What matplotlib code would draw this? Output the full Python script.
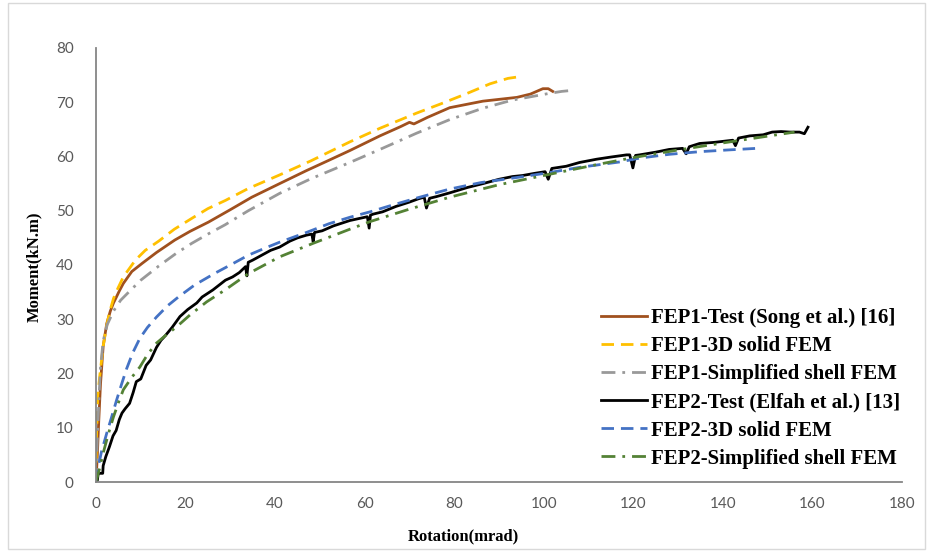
import matplotlib
matplotlib.use("Agg")
import matplotlib.pyplot as plt
from matplotlib.patches import Rectangle

# ---------------- data ----------------
fep1_test = [(0, 0), (0.3, 5), (0.6, 11), (1.0, 18), (1.6, 25), (2.4, 29.2), (3.2, 31.5),
             (3.9, 33.0), (4.5, 34.0), (5.2, 35.2), (6.1, 36.6), (8.0, 38.8), (10.3, 40.3),
             (13.5, 42.3), (17.6, 44.6), (21, 46.2), (25.1, 47.9), (30, 50.2), (34.8, 52.5),
             (41, 55.0), (47, 57.4), (52, 59.3), (56.7, 61.1), (63.4, 63.8), (68, 65.5),
             (70, 66.3), (71, 66.0), (74, 67.2), (79, 69.0), (86.4, 70.2), (94, 70.9),
             (97, 71.5), (99.8, 72.5), (101, 72.5), (102, 72.0)]
fep1_solid = [(0, 0), (0.1, 8), (0.4, 16), (0.9, 20), (1.6, 25), (2.3, 28.5), (3.1, 31.5),
              (3.9, 33.8), (4.6, 35.2), (6.1, 37.8), (8.8, 40.9), (11, 42.7), (14, 44.4),
              (17.5, 46.6), (21.4, 48.6), (25, 50.4), (28.9, 51.9), (34, 54.1), (41, 56.6),
              (48, 59.2), (56.7, 62.7), (63.4, 65.2), (71.6, 68.0), (77, 69.7), (82.8, 71.6),
              (88, 73.4), (92, 74.4), (95.3, 74.8)]
fep1_shell = [(0, 0), (0.3, 8), (0.7, 16), (1.0, 21), (1.6, 26), (2.5, 29), (3.9, 31.5),
              (5.5, 33.5), (7.3, 35.0), (10, 37.2), (14, 39.8), (18, 42.2), (21.4, 44.0),
              (25, 45.7), (28.8, 47.4), (34, 50.0), (41, 53.2), (48, 55.9), (56.7, 58.9),
              (63.4, 61.3), (71.6, 64.3), (79, 66.8), (86.4, 68.9), (93, 70.4), (101, 71.6),
              (104, 72.0), (106.5, 72.2)]
fep2_test = [(0, 0), (0.3, 0.3), (0.5, 1.6), (1.5, 1.6), (1.6, 3.0), (2.2, 4.7), (3.0, 6.5),
             (3.8, 8.5), (4.5, 9.5), (5.2, 11.5), (5.8, 12.7), (6.5, 13.5), (7.5, 14.5),
             (8.3, 16.5), (9.0, 18.5), (10.0, 19.0), (11.2, 21.5), (12.2, 22.5), (13.5, 24.8),
             (14.5, 26.1), (15.5, 27.0), (17.0, 28.5), (18.75, 30.5), (20.5, 31.8), (22.5, 33.0),
             (23.7, 34.1), (26.1, 35.4), (28.9, 37.2), (30.5, 37.8), (32, 38.6), (33.4, 39.7),
             (33.7, 38.0), (34.0, 40.5), (35, 40.9), (37, 41.8), (39, 42.7), (41, 43.3),
             (43.3, 44.4), (45, 45.0), (47, 45.5), (48.2, 45.7), (48.5, 44.3), (48.8, 46.0),
             (50.5, 46.3), (53, 47.2), (56.7, 48.2), (60.6, 48.9), (61.0, 46.8), (61.3, 49.2),
             (62, 49.4), (64, 49.8), (67, 50.8), (70, 51.6), (72, 52.2), (73.3, 52.5),
             (73.8, 50.5), (74.5, 52.3), (76, 52.6), (79, 53.3), (83, 54.3), (86.4, 55.0),
             (90, 55.8), (93, 56.3), (95.3, 56.5), (98, 56.9), (100.3, 57.2), (101, 55.8),
             (101.8, 57.8), (105, 58.2), (108, 58.9), (111.8, 59.5), (115, 59.9), (118.5, 60.3),
             (119.2, 60.3), (119.9, 57.9), (120.5, 60.2), (121.4, 60.3), (125, 60.8),
             (128, 61.3), (131, 61.5), (131.8, 60.5), (132.5, 61.8), (134.8, 62.4), (138, 62.6),
             (142.2, 63.0), (142.8, 62.0), (143.5, 63.4), (146, 63.8), (149, 64.0), (151, 64.5),
             (153, 64.6), (155, 64.5), (157.1, 64.5), (158.2, 64.2), (159, 65.4)]
fep2_solid = [(0, 0), (0.5, 2.8), (1.2, 5.5), (2.4, 9), (3.5, 12), (4.6, 15.1), (5.7, 18.0),
              (6.8, 20.8), (8.2, 23.8), (9.8, 26.5), (11.5, 28.5), (13.5, 30.4), (16, 32.5),
              (18.4, 34.1), (22, 36.3), (26.6, 38.5), (30, 40.0), (34, 41.8), (38, 43.2),
              (41, 44.2), (47, 46.0), (52, 47.6), (56.7, 48.8), (61.2, 49.8), (66, 51.0),
              (72.3, 52.5), (79, 54.0), (86, 55.2), (94.6, 56.2), (101, 57.0), (108, 58.0),
              (117, 59.0), (121.4, 59.7), (128, 60.4), (135, 60.9), (141, 61.2), (147.5, 61.5)]
fep2_shell = [(0, 0), (0.8, 2.5), (1.6, 5.3), (2.7, 8.7), (3.9, 12), (5, 14.6), (6.1, 17),
              (8, 19.3), (9.8, 21.2), (11.5, 23.5), (13.5, 25.6), (15.8, 27.2), (18, 28.6),
              (21, 30.8), (24.7, 33.2), (29, 35.5), (34, 38.4), (41, 41.5), (48.5, 44.0),
              (56.7, 46.6), (61.2, 48.0), (70, 50.3), (79, 52.5), (90, 54.8), (100, 56.5),
              (111.8, 58.5), (120, 59.8), (130, 61.2), (140, 62.5), (148, 63.5), (156, 64.5)]

labels = ["FEP1-Test (Song et al.) [16]", "FEP1-3D solid FEM", "FEP1-Simplified shell FEM",
          "FEP2-Test (Elfah et al.) [13]", "FEP2-3D solid FEM", "FEP2-Simplified shell FEM"]
x_ticks = [0, 20, 40, 60, 80, 100, 120, 140, 160, 180]
y_ticks = [0, 10, 20, 30, 40, 50, 60, 70, 80]

# ---------------- figure ----------------
fig = plt.figure(figsize=(9.33, 5.52), dpi=100)
fig.patch.set_facecolor("white")
fig.patches.append(Rectangle((8 / 933, 3 / 552), 917 / 933, 546 / 552, transform=fig.transFigure,
                             fill=False, edgecolor="#D9D9D9", linewidth=1.0))
ax = fig.add_axes([96 / 933, 1 - 482 / 552, 806 / 933, 434 / 552])

series = [fep1_test, fep1_solid, fep1_shell, fep2_test, fep2_solid, fep2_shell]
styles = [
    dict(color="#A0501E", linestyle="-", lw=2.0),
    dict(color="#FFC000", linestyle=(0, (4.5, 2.5)), lw=2.0),
    dict(color="#999999", linestyle=(0, (5, 2.5, 1, 2.5)), lw=2.0),
    dict(color="#000000", linestyle="-", lw=2.0),
    dict(color="#4472C4", linestyle=(0, (4.5, 2.5)), lw=2.0),
    dict(color="#548235", linestyle=(0, (5, 2.5, 1, 2.5)), lw=2.0),
]
for data, st, lab in zip(series, styles, labels):
    xs = [p[0] for p in data]
    ys = [p[1] for p in data]
    ax.plot(xs, ys, label=lab, solid_joinstyle="round", **st)

ax.set_xlim(0, 180)
ax.set_ylim(0, 80)
ax.set_xticks(x_ticks)
ax.set_yticks(y_ticks)
for s in ["top", "right"]:
    ax.spines[s].set_visible(False)
for s in ["left", "bottom"]:
    ax.spines[s].set_color("#868686")
    ax.spines[s].set_linewidth(1.3)
ax.tick_params(length=0, labelsize=11, labelcolor="#595959")
ax.tick_params(axis="x", pad=11)
ax.tick_params(axis="y", pad=16)
for lbl in ax.get_xticklabels() + ax.get_yticklabels():
    lbl.set_family("Lato")

ax.set_xlabel("Rotation(mrad)", fontfamily="Liberation Serif", fontweight="bold", fontsize=12)
ax.set_ylabel("Moment(kN.m)", fontfamily="Liberation Serif", fontweight="bold", fontsize=12)
ax.xaxis.set_label_coords((463 - 96) / 806, -(528 - 482) / 434)
ax.yaxis.set_label_coords(-(96 - 42) / 806, (482 - 267) / 434)

leg = ax.legend(loc="upper left", bbox_to_anchor=(601 / 933, 1 - 308 / 552),
                bbox_transform=fig.transFigure, frameon=False,
                prop=dict(family="Liberation Serif", weight="bold", size=15),
                handlelength=2.2, handletextpad=0.2, labelspacing=0.39, borderpad=0,
                borderaxespad=0)

fig.savefig("out.png", dpi=100, facecolor="white")
